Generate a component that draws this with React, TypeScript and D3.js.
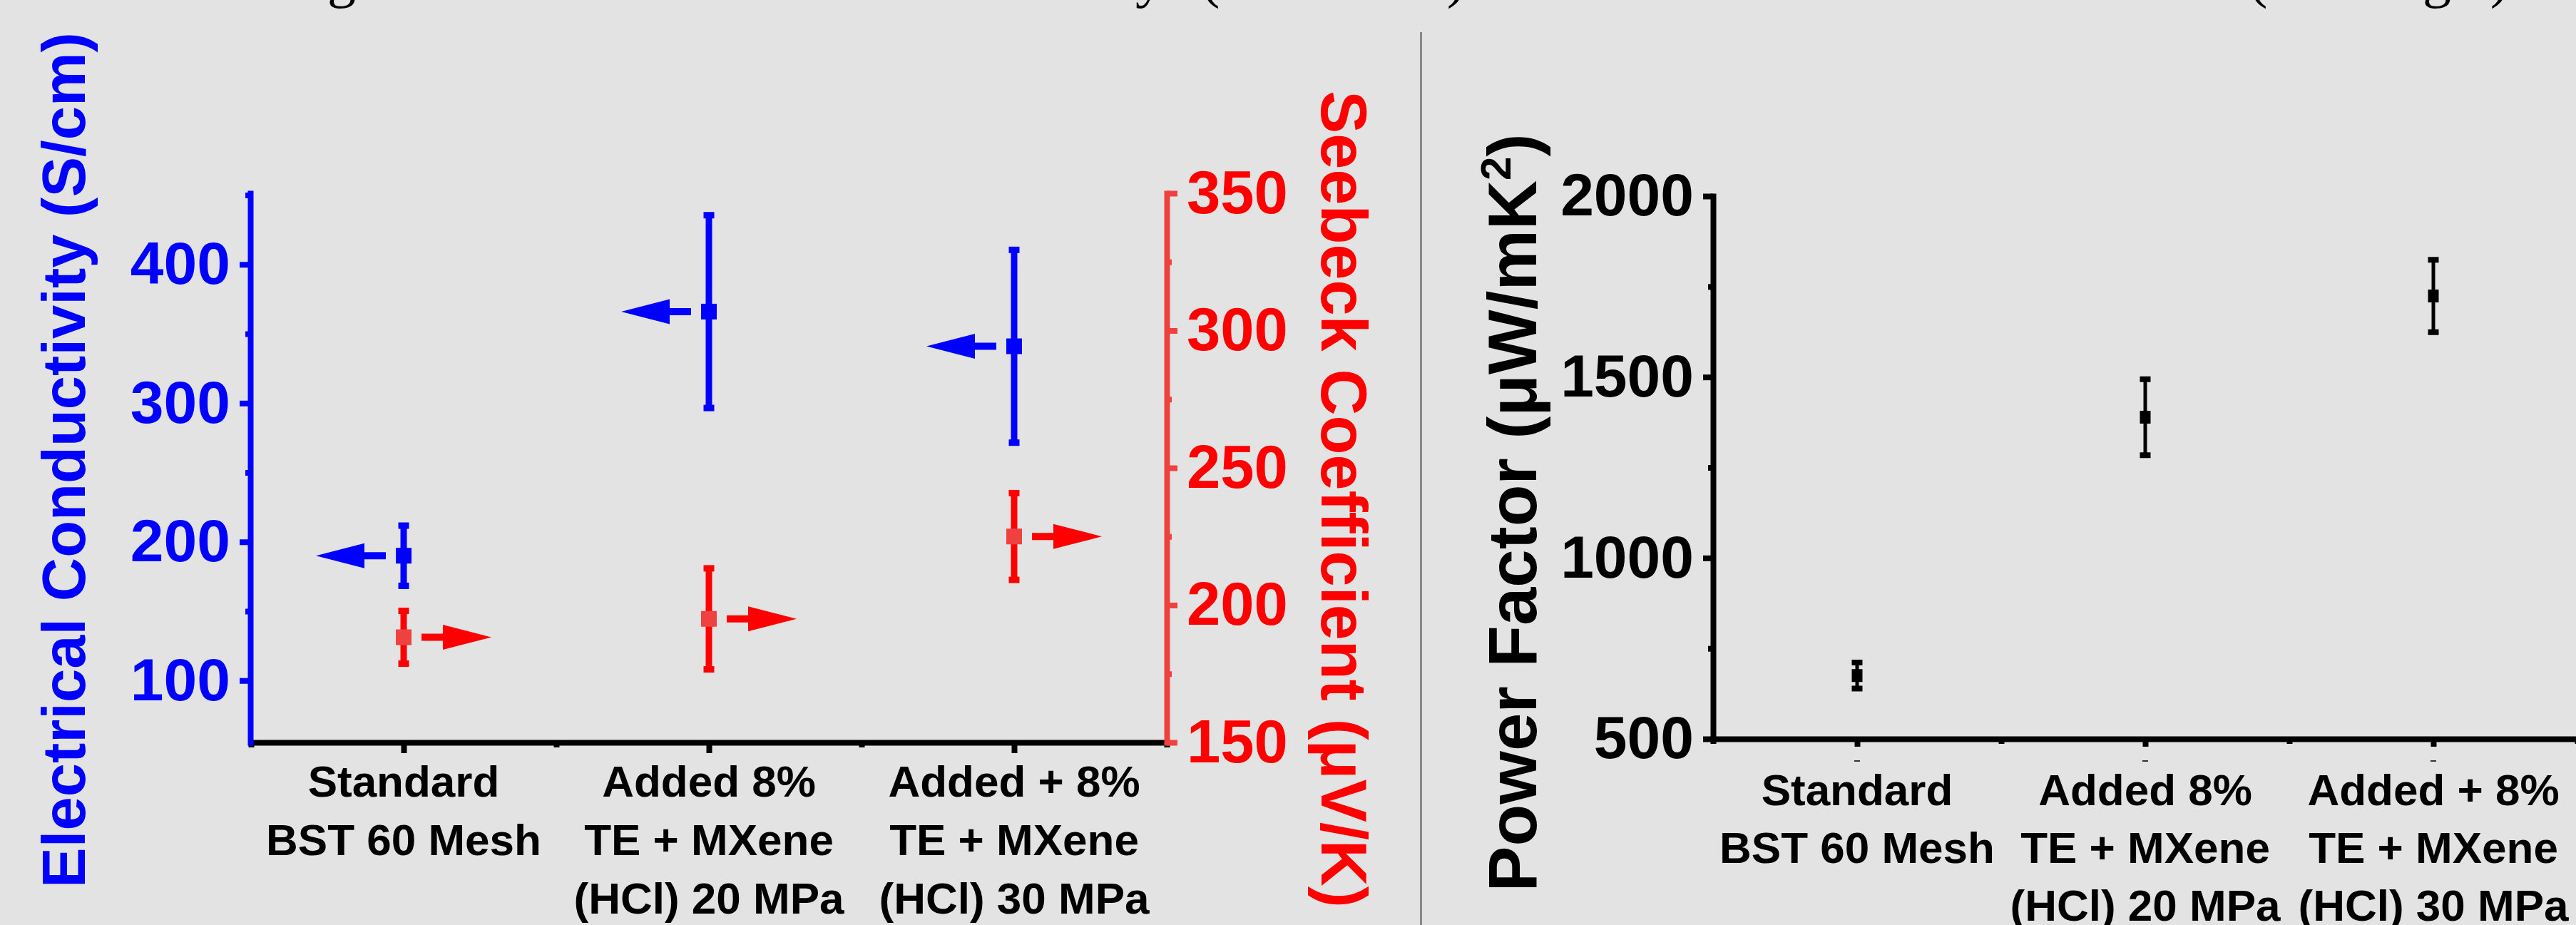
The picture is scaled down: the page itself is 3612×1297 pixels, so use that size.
import React, { useEffect, useRef } from 'react';
import * as d3 from 'd3';

// samples on the x axis (1..3)
const categories = [1, 2, 3];
const categoryLines = [
    ['Standard', 'BST 60 Mesh', ''],
    ['Added 8%', 'TE + MXene', '(HCl) 20 MPa'],
    ['Added + 8%', 'TE + MXene', '(HCl) 30 MPa'],
];

// left panel
const conductivity = [190, 366, 341];
const conductivityErr = [21.7, 69.5, 69.5];
const seebeck = [188.3, 195, 225];
const seebeckErr = [9.6, 18.4, 15.8];

// right panel
const powerFactor = [675, 1389, 1724];
const powerFactorErr = [36, 105, 100];

const condTicks = [100, 200, 300, 400];
const condMinor = [150, 250, 350, 450];
const seebeckTicks = [150, 200, 250, 300, 350];
const seebeckMinor = [175, 225, 275, 325];
const pfTicks = [500, 1000, 1500, 2000];
const pfMinor = [750, 1250, 1750];
const xMinor = [0.5, 1.5, 2.5, 3.5];

const FONT = '"Liberation Sans", Arial, Helvetica, sans-serif';
const BLUE = '#0000ff';
const RED = '#ff0000';
const RED_AXIS = '#f04141';

export default function App() {
    const ref = useRef(null);

    useEffect(() => {
        document.body.style.margin = '0';
        const W = 3612, H = 1297;
        const svg = d3.select(ref.current);
        svg.selectAll('*').remove();

        svg.append('rect').attr('width', W).attr('height', H).attr('fill', '#e3e3e3');

        // cropped caption line at the very top (only descenders left)
        const frags = [['g', 479], ['y', 1612], ['(', 1697], [')', 2042], ['(', 3166], ['g', 3417], [')', 3505]];
        svg.append('g').selectAll('text').data(frags).join('text')
            .attr('x', d => d[1]).attr('y', -5)
            .attr('text-anchor', 'middle')
            .style('font-family', '"Liberation Serif", "DejaVu Serif", serif')
            .style('font-size', '80px')
            .attr('fill', '#000')
            .text(d => d[0]);

        // separator
        svg.append('line').attr('x1', 1992.5).attr('x2', 1992.5).attr('y1', 45).attr('y2', H)
            .attr('stroke', '#555').attr('stroke-width', 2);

        const styleAxis = (g, color, width, size) => {
            g.attr('font-family', FONT).attr('font-size', size).attr('font-weight', 'bold');
            g.select('.domain').attr('stroke', color).attr('stroke-width', width).attr('stroke-linecap', 'square');
            g.selectAll('.tick line').attr('stroke', color).attr('stroke-width', width);
            g.selectAll('.tick text').attr('fill', color);
        };
        const minorAxis = (g, color, width) => {
            g.select('.domain').remove();
            g.selectAll('.tick line').attr('stroke', color).attr('stroke-width', width);
        };

        const errorBars = (g, x, y, vals, errs, color, markColor, o) => {
            const grp = g.append('g');
            vals.forEach((v, i) => {
                const cx = x(categories[i]);
                grp.append('line').attr('x1', cx).attr('x2', cx)
                    .attr('y1', y(v + errs[i])).attr('y2', y(v - errs[i]))
                    .attr('stroke', color).attr('stroke-width', o.lw);
                [v + errs[i], v - errs[i]].forEach(e => {
                    grp.append('rect').attr('x', cx - o.cap / 2).attr('y', y(e) - o.capH / 2)
                        .attr('width', o.cap).attr('height', o.capH).attr('fill', color);
                });
                grp.append('rect').attr('x', cx - o.mk / 2).attr('y', y(v) - o.mkH / 2)
                    .attr('width', o.mk).attr('height', o.mkH).attr('fill', markColor);
            });
        };

        const arrow = (g, cx, cy, dir, color) => {
            const tail = cx + dir * 25, base = cx + dir * 55, tip = cx + dir * 123;
            const p = d3.path();
            p.moveTo(tail, cy - 5);
            p.lineTo(base, cy - 5);
            p.lineTo(base, cy - 17.5);
            p.lineTo(tip, cy);
            p.lineTo(base, cy + 17.5);
            p.lineTo(base, cy + 5);
            p.lineTo(tail, cy + 5);
            p.closePath();
            g.append('path').attr('d', p.toString()).attr('fill', color);
        };

        const xLabels = (g, x, baseY, step) => {
            const t = g.append('g')
                .style('font-family', FONT).style('font-size', '62px').style('font-weight', 'bold')
                .attr('text-anchor', 'middle').attr('fill', '#000');
            categories.forEach((c, i) => {
                categoryLines[i].forEach((line, j) => {
                    if (!line) return;
                    t.append('text').attr('x', x(c)).attr('y', baseY + j * step).text(line);
                });
            });
        };

        // ---------------- left panel ----------------
        const xL = d3.scaleLinear().domain([0.5, 3.5]).range([352, 1636]);
        const yL = d3.scaleLinear().domain([55.4, 451.3]).range([1041, 271]);
        const yS = d3.scaleLinear().domain([150, 350]).range([1041, 271]);

        const left = svg.append('g');

        left.append('g').attr('transform', 'translate(0,1041)')
            .call(d3.axisBottom(xL).tickValues(categories).tickSize(15).tickSizeOuter(0).tickFormat(() => ''))
            .call(g => styleAxis(g, '#000', 8, 60));
        left.append('g').attr('transform', 'translate(0,1041)')
            .call(d3.axisBottom(xL).tickValues(xMinor).tickSize(7).tickFormat(() => ''))
            .call(g => minorAxis(g, '#000', 8));

        left.append('g').attr('transform', 'translate(351,0)')
            .call(d3.axisLeft(yL).tickValues(condTicks).tickSize(15).tickPadding(13).tickSizeOuter(0).tickFormat(d3.format('d')))
            .call(g => styleAxis(g, BLUE, 8, 84));
        left.append('g').attr('transform', 'translate(351,0)')
            .call(d3.axisLeft(yL).tickValues(condMinor).tickSize(7).tickFormat(() => ''))
            .call(g => minorAxis(g, BLUE, 8));

        left.append('g').attr('transform', 'translate(1636,0)')
            .call(d3.axisRight(yS).tickValues(seebeckTicks).tickSize(15).tickPadding(13).tickSizeOuter(0).tickFormat(d3.format('d')))
            .call(g => styleAxis(g, RED_AXIS, 8, 85))
            .call(g => g.selectAll('.tick text').attr('fill', RED));
        left.append('g').attr('transform', 'translate(1636,0)')
            .call(d3.axisRight(yS).tickValues(seebeckMinor).tickSize(7).tickFormat(() => ''))
            .call(g => minorAxis(g, RED_AXIS, 8));

        const lopts = { lw: 9, cap: 15, capH: 9, mk: 22, mkH: 22 };
        errorBars(left, xL, yL, conductivity, conductivityErr, BLUE, BLUE, lopts);
        errorBars(left, xL, yS, seebeck, seebeckErr, RED, RED_AXIS, lopts);
        conductivity.forEach((v, i) => arrow(left, xL(categories[i]), yL(v), -1, BLUE));
        seebeck.forEach((v, i) => arrow(left, xL(categories[i]), yS(v), 1, RED));

        xLabels(left, xL, 1117, 82);

        left.append('text')
            .attr('transform', 'translate(119,645) rotate(-90)')
            .attr('text-anchor', 'middle')
            .style('font-family', FONT).style('font-size', '85px').style('font-weight', 'bold')
            .attr('fill', BLUE)
            .text('Electrical Conductivity (S/cm)');

        left.append('text')
            .attr('transform', 'translate(1853,700) rotate(90)')
            .attr('text-anchor', 'middle')
            .style('font-family', FONT).style('font-size', '90px').style('font-weight', 'bold')
            .attr('fill', RED)
            .text('Seebeck Coefficient (μV/K)');

        // ---------------- right panel ----------------
        const xR = d3.scaleLinear().domain([0.5, 3.5]).range([2402, 3614]);
        const yR = d3.scaleLinear().domain([500, 2000]).range([1036, 275]);
        const right = svg.append('g');

        right.append('g').attr('transform', 'translate(0,1036)')
            .call(d3.axisBottom(xR).tickValues(categories).tickSize(11).tickSizeOuter(0).tickFormat(() => ''))
            .call(g => styleAxis(g, '#000', 8, 60));
        right.append('g').attr('transform', 'translate(0,1036)')
            .call(d3.axisBottom(xR).tickValues(xMinor).tickSize(7).tickFormat(() => ''))
            .call(g => minorAxis(g, '#000', 8));

        right.append('g').attr('transform', 'translate(2402,0)')
            .call(d3.axisLeft(yR).tickValues(pfTicks).tickSize(14).tickPadding(13).tickSizeOuter(0).tickFormat(d3.format('d')))
            .call(g => styleAxis(g, '#000', 8, 84));
        right.append('g').attr('transform', 'translate(2402,0)')
            .call(d3.axisLeft(yR).tickValues(pfMinor).tickSize(7).tickFormat(() => ''))
            .call(g => minorAxis(g, '#000', 8));

        // tiny dashes left under each category
        right.append('g').selectAll('line').data(categories).join('line')
            .attr('x1', d => xR(d) - 4).attr('x2', d => xR(d) + 4)
            .attr('y1', 1067).attr('y2', 1067)
            .attr('stroke', '#333').attr('stroke-width', 2);

        errorBars(right, xR, yR, powerFactor, powerFactorErr, '#000', '#000',
            { lw: 5, cap: 15, capH: 8, mk: 15, mkH: 18 });

        xLabels(right, xR, 1129, 81);

        const pf = right.append('text')
            .attr('transform', 'translate(2154,719) rotate(-90)')
            .attr('text-anchor', 'middle')
            .style('font-family', FONT).style('font-size', '96px').style('font-weight', 'bold')
            .attr('fill', '#000');
        pf.append('tspan').text('Power Factor (μW/mK');
        pf.append('tspan').attr('dy', -36).style('font-size', '60px').text('2');
        pf.append('tspan').attr('dy', 36).text(')');
    }, []);

    return (
        <svg ref={ref} width={3612} height={1297}
            style={{ position: 'absolute', left: 0, top: 0, display: 'block' }} />
    );
}
